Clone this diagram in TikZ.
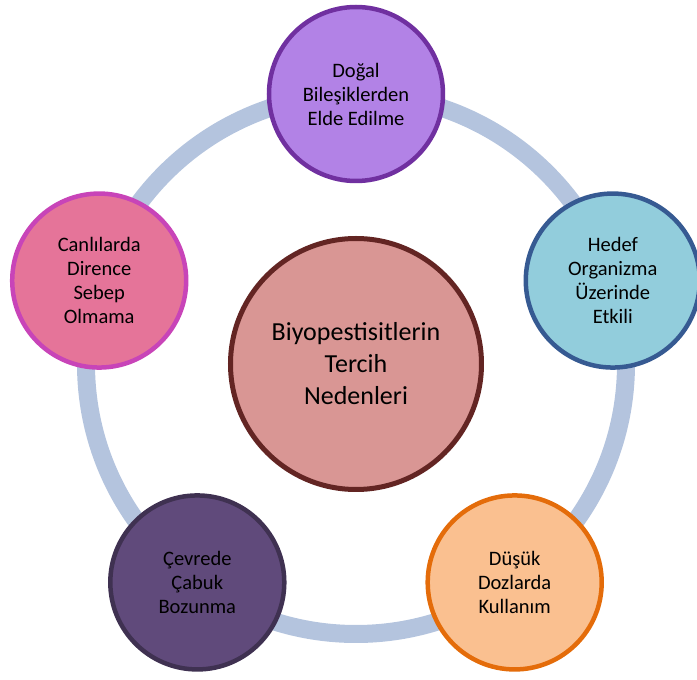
\documentclass[tikz,border=0pt]{standalone}
\usepackage{fontspec}
\setmainfont{Carlito}

\definecolor{ringblue}{RGB}{180,196,222}
\definecolor{hubfill}{RGB}{217,150,148}
\definecolor{hubline}{RGB}{99,37,35}
\definecolor{purplefill}{RGB}{178,130,230}
\definecolor{purpleline}{RGB}{112,48,160}
\definecolor{bluefill}{RGB}{146,205,220}
\definecolor{blueline}{RGB}{54,90,146}
\definecolor{orangefill}{RGB}{250,192,144}
\definecolor{orangeline}{RGB}{228,108,10}
\definecolor{violetfill}{RGB}{96,74,123}
\definecolor{violetline}{RGB}{63,49,81}
\definecolor{pinkfill}{RGB}{229,116,153}
\definecolor{pinkline}{RGB}{200,68,184}

\begin{document}
\begin{tikzpicture}
  [x=1pt,y=1pt,
   every node/.style={circle,align=center,text=black,line width=4.5pt,
     minimum size=174pt,inner sep=0pt,font=\fontsize{20.5}{24}\selectfont},
   hub/.style={minimum size=251pt,line width=5pt,font=\fontsize{26}{32}\selectfont}]
  \useasboundingbox (-356,-316) rectangle (341,364);

  \node[hub,fill=hubfill,draw=hubline] (hub) at (0,0) {Biyopestisitlerin\\Tercih\\Nedenleri};
  \draw[ringblue,line width=18pt] (hub.center) circle (270);

  \node[fill=purplefill,draw=purpleline] (n1) at (90:270) {Doğal\\Bileşiklerden\\Elde Edilme};
  \node[fill=bluefill,draw=blueline] (n2) at (18:270) {Hedef\\Organizma\\Üzerinde\\Etkili};
  \node[fill=orangefill,draw=orangeline] (n3) at (-54:270) {Düşük\\Dozlarda\\Kullanım};
  \node[fill=violetfill,draw=violetline] (n4) at (-126:270) {Çevrede\\Çabuk\\Bozunma};
  \node[fill=pinkfill,draw=pinkline] (n5) at (162:270) {Canlılarda\\Dirence\\Sebep\\Olmama};

\end{tikzpicture}
\end{document}
